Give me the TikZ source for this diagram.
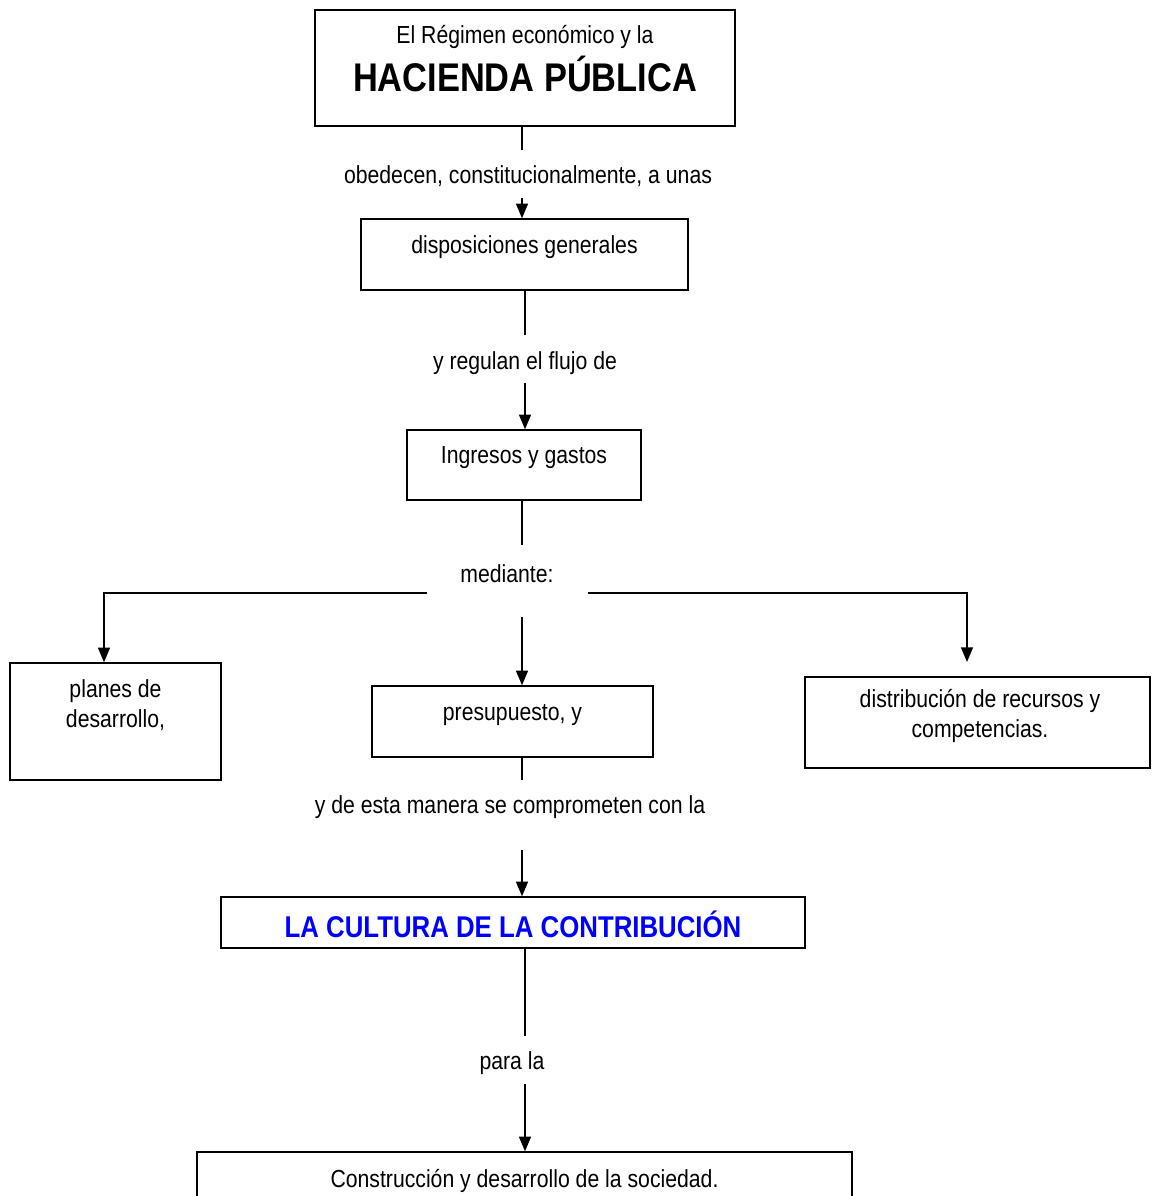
\documentclass[tikz,border=0pt]{standalone}
\usepackage{fontspec}
\setmainfont{Liberation Sans}[FakeStretch=0.86]
\usetikzlibrary{arrows.meta}
\begin{document}
\begin{tikzpicture}[x=0.75pt,y=-0.75pt,
  box/.style={draw,line width=1.1pt,inner sep=0pt},
  txt/.style={inner sep=0pt,font=\fontsize{18.5}{22}\selectfont,align=center},
  conn/.style={line width=1.1pt},
  arr/.style={line width=1.1pt,-{Triangle[width=9pt,length=11pt]}}]
\useasboundingbox[fill=white] (0,0) rectangle (1152,1196);
% boxes
\node[box,minimum width=315pt,minimum height=87pt] (b1) at (525,68) {};
\node[box,minimum width=245.25pt,minimum height=53.25pt] (b2) at (524.5,254.5) {};
\node[box,minimum width=175.5pt,minimum height=52.5pt] (b3) at (524,465) {};
\node[box,minimum width=158.25pt,minimum height=87.75pt] (bl) at (115.5,721.5) {};
\node[box,minimum width=210.75pt,minimum height=53.25pt] (bm) at (512.5,721.5) {};
\node[box,minimum width=258.75pt,minimum height=68.25pt] (br) at (977.5,722.5) {};
\node[box,minimum width=438pt,minimum height=38.25pt] (bc) at (513,922.5) {};
\node[box,minimum width=491.25pt,minimum height=43.5pt] (bs) at (524.5,1181) {};
% texts
\node[txt] (t1a) at (525,37) {El Régimen económico y la};
\node[txt,font=\fontsize{30}{36}\selectfont\bfseries] (t1b) at (525,74) {HACIENDA PÚBLICA};
\node[txt] (t2) at (524.5,247) {disposiciones generales};
\node[txt] (t3) at (524,458) {Ingresos y gastos};
\node[txt] (tl) at (115.5,705) {planes de\\desarrollo,};
\node[txt] (tm) at (512.5,715) {presupuesto, y};
\node[txt] (tr) at (980,716) {distribución de recursos y\\competencias.};
\node[txt,font=\fontsize{22.5}{27}\selectfont\bfseries,text=blue] (tc) at (513,924) {LA CULTURA DE LA CONTRIBUCIÓN};
\node[txt] (ts) at (524.5,1181) {Construcción y desarrollo de la sociedad.};
% labels
\node[txt] (l1) at (528,176) {obedecen, constitucionalmente, a unas};
\node[txt] (l2) at (525,363) {y regulan el flujo de};
\node[txt] (l3) at (507,574) {mediante:};
\node[txt] (l4) at (510,807) {y de esta manera se comprometen con la};
\node[txt] (l5) at (512,1063) {para la};
% coordinates
\coordinate (c1a) at (522,150);
\coordinate (c1b) at (522,198);
\coordinate (c2a) at (525,335);
\coordinate (c2b) at (525,383);
\coordinate (c3a) at (522,545);
\coordinate (hl) at (427,593);
\coordinate (hlc) at (104,593);
\coordinate (hr) at (588,593);
\coordinate (hrc) at (967,593);
\coordinate (hre) at (967,662);
\coordinate (cm) at (522,617);
\coordinate (c4a) at (522,780);
\coordinate (c4b) at (522,850);
\coordinate (c5a) at (525,1036);
\coordinate (c5b) at (525,1084);
% connectors
\draw[conn] (b1.south -| c1a) -- (c1a);
\draw[arr] (c1b) -- (c1b |- b2.north);
\draw[conn] (b2.south -| c2a) -- (c2a);
\draw[arr] (c2b) -- (c2b |- b3.north);
\draw[conn] (b3.south -| c3a) -- (c3a);
\draw[arr] (hl) -- (hlc) -- (hlc |- bl.north);
\draw[arr] (hr) -- (hrc) -- (hre);
\draw[arr] (cm) -- (cm |- bm.north);
\draw[conn] (bm.south -| c4a) -- (c4a);
\draw[arr] (c4b) -- (c4b |- bc.north);
\draw[conn] (bc.south -| c5a) -- (c5a);
\draw[arr] (c5b) -- (c5b |- bs.north);
\end{tikzpicture}
\end{document}
